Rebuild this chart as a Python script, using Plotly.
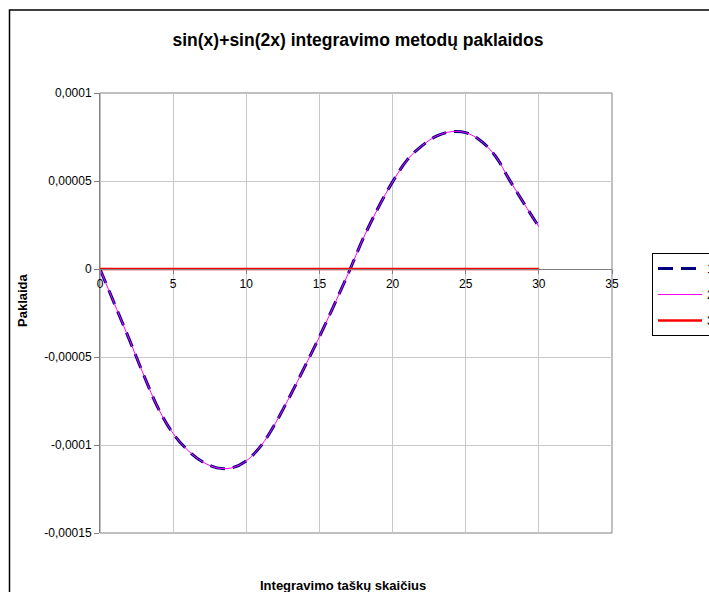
import plotly.graph_objects as go

# Integration point counts
points = list(range(0, 31))

# Error of method 1 and method 2 (nearly identical curves)
err_1 = [0.0, -0.0000200, -0.0000400, -0.0000605, -0.0000795, -0.0000935,
         -0.0001030, -0.0001095, -0.0001130, -0.0001130, -0.0001090,
         -0.0001005, -0.0000875, -0.0000720, -0.0000555, -0.0000385,
         -0.0000205, -0.0000020, 0.0000175, 0.0000345, 0.0000495,
         0.0000620, 0.0000700, 0.0000755, 0.0000780, 0.0000775,
         0.0000730, 0.0000645, 0.0000505, 0.0000370, 0.0000240]
err_2 = list(err_1)
# Error of method 3
err_3 = [0.0] * 31

series_names = ["1", "2", "3"]
x_ticks = [0, 5, 10, 15, 20, 25, 30, 35]
y_ticks = [0.0001, 0.00005, 0.0, -0.00005, -0.0001, -0.00015]


def lt_number(v):
    s = f"{v:.5f}".rstrip("0").rstrip(".")
    if s in ("-0", ""):
        s = "0"
    return s.replace(".", ",")


FONT = "Liberation Sans, Arial, sans-serif"
GRID = "#c8c8c8"
AXIS = "#808080"

fig = go.Figure()
fig.add_trace(go.Scatter(
    x=points, y=err_1, name=series_names[0], legendgroup="g1", mode="lines",
    line=dict(color="#000080", width=3, dash="15px,8px", shape="spline", smoothing=1.0),
))
fig.add_trace(go.Scatter(
    x=points, y=err_2, name=series_names[1], legendgroup="g2", mode="lines",
    line=dict(color="#ff00ff", width=1, shape="spline", smoothing=1.0),
))
fig.add_trace(go.Scatter(
    x=points, y=err_3, name=series_names[2], legendgroup="g3", mode="lines",
    line=dict(color="#ff0000", width=2.5),
))

y_min, y_max = -0.00015, 0.0001
zero_pos = (0 - y_min) / (y_max - y_min)

fig.update_layout(
    width=709, height=592,
    margin=dict(l=100, r=97, t=93, b=59, autoexpand=False),
    paper_bgcolor="white", plot_bgcolor="white",
    font=dict(family=FONT, size=11, color="black"),
    title=dict(
        text="<b>sin(x)+sin(2x) integravimo metodų paklaidos</b>",
        x=358 / 709, xanchor="center", xref="container",
        y=1 - 40 / 592, yanchor="middle", yref="container",
        font=dict(family=FONT, size=17.5, color="black"),
    ),
    xaxis=dict(
        range=[0, 35], tickvals=x_ticks, ticktext=[str(t) for t in x_ticks],
        showgrid=True, gridcolor=GRID, gridwidth=1, zeroline=False,
        showline=True, linecolor=AXIS, linewidth=1,
        ticks="outside", ticklen=4, tickcolor=AXIS,
        anchor="free", position=zero_pos,
        tickfont=dict(family=FONT, size=12),
    ),
    yaxis=dict(
        range=[y_min, y_max], tickvals=y_ticks,
        ticktext=[lt_number(v) for v in y_ticks],
        showgrid=True, gridcolor=GRID, gridwidth=1, zeroline=False,
        showline=True, linecolor=AXIS, linewidth=1,
        ticks="outside", ticklen=5, tickcolor=AXIS,
        tickfont=dict(family=FONT, size=12),
    ),
    legend=dict(
        x=(652 - 100) / 512, y=(533 - 253) / 440, xanchor="left", yanchor="top",
        bgcolor="white", bordercolor="black", borderwidth=1,
        font=dict(family=FONT, size=12), tracegroupgap=7, itemwidth=44,
    ),
    showlegend=True,
)

# plot area border
fig.add_shape(type="rect", xref="x domain", yref="y domain", x0=0, x1=1, y0=0, y1=1,
              line=dict(color=AXIS, width=1), layer="below")
# outer chart frame
fig.add_shape(type="rect", xref="paper", yref="paper",
              x0=(9.5 - 100) / 512, x1=1.4, y0=-0.3, y1=(533 - 10) / 440,
              line=dict(color="black", width=1.5), fillcolor="rgba(0,0,0,0)")

fig.add_annotation(
    text="<b>Integravimo taškų skaičius</b>", xref="paper", yref="paper",
    x=(343 - 100) / 512, y=(533 - 585) / 440, showarrow=False,
    xanchor="center", yanchor="middle", font=dict(family=FONT, size=13),
)
fig.add_annotation(
    text="<b>Paklaida</b>", xref="paper", yref="paper",
    x=(22 - 100) / 512, y=(533 - 300) / 440, showarrow=False, textangle=-90,
    xanchor="center", yanchor="middle", font=dict(family=FONT, size=13),
)

fig.write_html("out.html")
